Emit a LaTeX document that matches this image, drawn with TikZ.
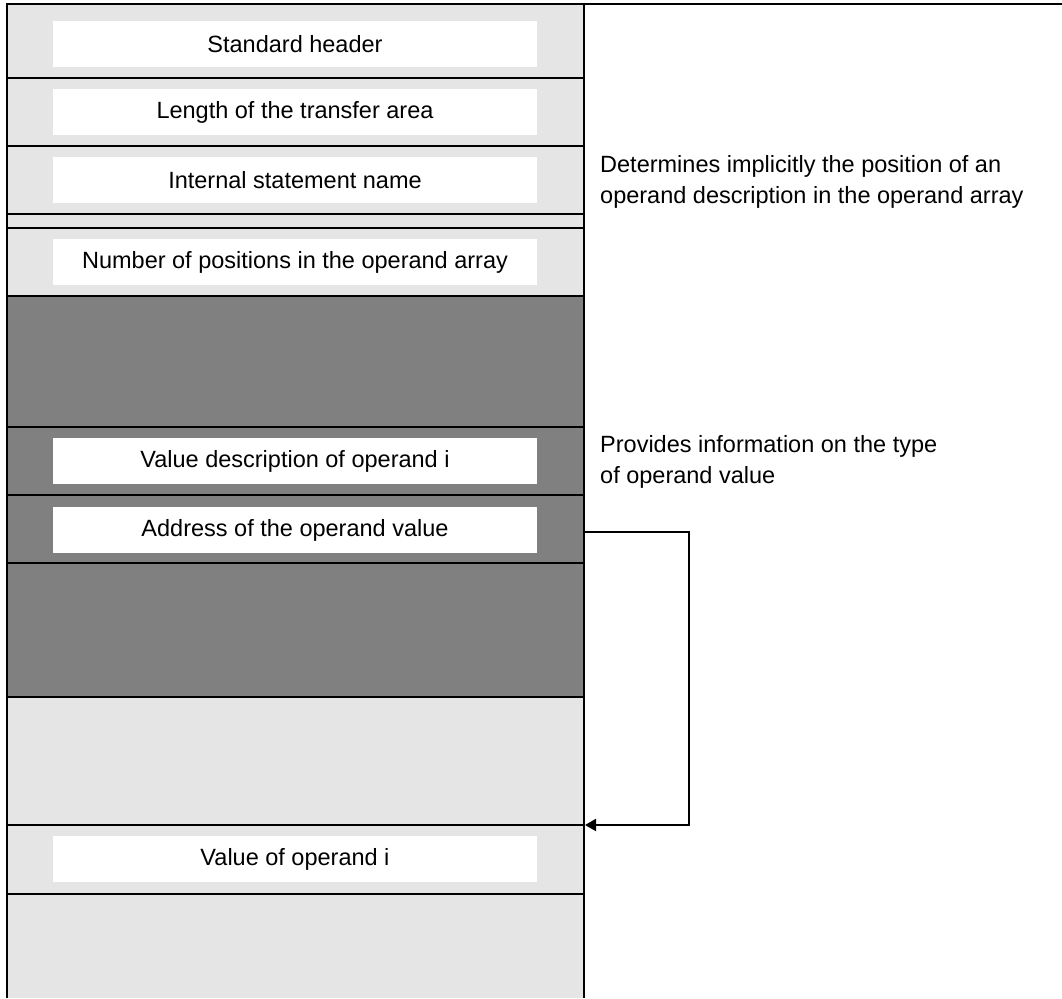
\documentclass[tikz,border=0pt]{standalone}
\usepackage{fontspec}
\setmainfont{Liberation Sans}
\usetikzlibrary{arrows.meta}
\definecolor{lightfill}{HTML}{E5E5E5}
\definecolor{darkfill}{HTML}{808080}
\begin{document}
\begin{tikzpicture}[x=1pt,y=-1pt,
  field/.style={fill=white, minimum width=484pt, minimum height=46pt,
    inner sep=0pt, anchor=north, font=\fontsize{23.5}{28}\selectfont},
  sep/.style={line width=2pt},
  note/.style={align=left, anchor=north west, inner sep=0pt,
    font=\fontsize{23.5}{31}\selectfont},
  link/.style={line width=2pt, -{Triangle[length=11pt,width=12pt]}},
]
\useasboundingbox (0,0) rectangle (1062,998);

% background of the transfer area
\fill[lightfill] (7,4) rectangle (584,998);
\fill[darkfill] (7,296) rectangle (584,697);

% fields
\node[field] (hdr)  at (295,21)  {Standard header};
\node[field] (len)  at (295,89)  {Length of the transfer area};
\node[field] (name) at (295,157) {Internal statement name};
\node[field] (num)  at (295,239) {Number of positions in the operand array};
\node[field] (vdesc) at (295,438) {Value description of operand i};
\node[field] (addr) at (295,507) {Address of the operand value};
\node[field] (val)  at (295,836) {Value of operand i};

% row separators
\foreach \y in {78,146,214,228,296,427,495,563,697,825,894}
  \draw[sep] (7,\y) -- (584,\y);
\draw[line width=1.2pt] (7,4) -- (1062,4);

% side borders
\draw[sep] (7,3) -- (7,998);
\draw[sep] (584,3) -- (584,998);

% explanations
\node[note] (n1) at (600,155)
  {Determines implicitly the position of an\\operand description in the operand array};
\node[note] (n2) at (600,435)
  {Provides information on the type\\of operand value};

% pointer from the address field to the operand value
\coordinate (src) at (585,532);
\coordinate (dst) at (585,825);
\draw[link] (src) -- ++(104,0) |- (dst);
\end{tikzpicture}
\end{document}
